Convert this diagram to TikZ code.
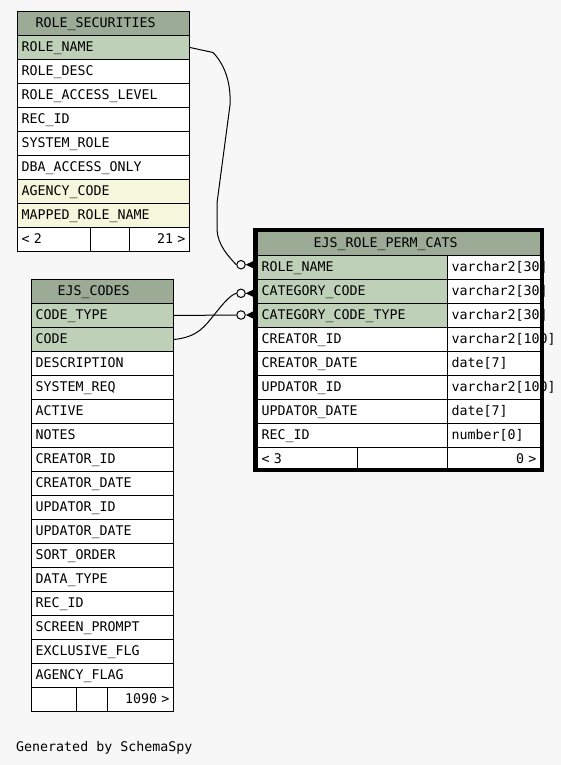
\documentclass[tikz,border=0pt]{standalone}
\usepackage{fontspec}
\setmonofont{DejaVu Sans Mono}
\usepackage{tikz}
\usetikzlibrary{positioning}

\definecolor{sfondo}{HTML}{F7F7F7}
\definecolor{verdetesta}{HTML}{9BAB96}
\definecolor{verdechiave}{HTML}{BED1B8}
\definecolor{gialloindice}{HTML}{F5F7DC}

\tikzset{
	cella/.style={draw, line width=1pt, fill=white, anchor=north west,
		inner xsep=4pt, inner ysep=0pt, minimum height=24pt,
		text height=11pt, text depth=3pt, text width=#1, align=left},
	cellad/.style={cella=#1, align=right},
	zampa/.style={circle, draw, line width=1pt, minimum size=8.5pt, inner sep=0pt},
	legame/.style={line width=1pt}
}

\begin{document}
\begin{tikzpicture}[x=1pt,y=-1pt,font=\fontsize{13.3}{15}\selectfont\ttfamily]
		\fill [sfondo] (0,0) rectangle (561,765);
		\useasboundingbox (0,0) rectangle (561,765);
		
		% ROLE_SECURITIES
		\node [cella=164pt, fill=verdetesta] (rs) at (17,11) {\hspace*{14pt}ROLE\_SECURITIES};
		\foreach \nome/\colore [count=\i] in {ROLE\_NAME/verdechiave, ROLE\_DESC/white,
			ROLE\_ACCESS\_LEVEL/white, REC\_ID/white, SYSTEM\_ROLE/white,
			DBA\_ACCESS\_ONLY/white, AGENCY\_CODE/gialloindice, MAPPED\_ROLE\_NAME/gialloindice}
			\node [cella=164pt, fill=\colore] (rs-\i) at (17,11+24*\i) {\nome};
		\node [cella=65pt] (rs-p1) at (17,227) {<\ 2};
		\node [cella=31pt] (rs-p2) at (90,227) {};
		\node [cellad=52pt] (rs-p3) at (129,227) {21\ >};
		
		% EJS_CODES
		\node [cella=134pt, fill=verdetesta] (ec) at (31,279) {\hspace*{22pt}EJS\_CODES};
		\foreach \nome/\colore [count=\i] in {CODE\_TYPE/verdechiave, CODE/verdechiave,
			DESCRIPTION/white, SYSTEM\_REQ/white, ACTIVE/white, NOTES/white,
			CREATOR\_ID/white, CREATOR\_DATE/white, UPDATOR\_ID/white, UPDATOR\_DATE/white,
			SORT\_ORDER/white, DATA\_TYPE/white, REC\_ID/white, SCREEN\_PROMPT/white,
			EXCLUSIVE\_FLG/white, AGENCY\_FLAG/white}
			\node [cella=134pt, fill=\colore] (ec-\i) at (31,279+24*\i) {\nome};
		\node [cella=37pt] (ec-p1) at (31,687) {};
		\node [cella=23pt] (ec-p2) at (76,687) {};
		\node [cellad=58pt] (ec-p3) at (107,687) {1090\ >};
		
		% EJS_ROLE_PERM_CATS
		\node [cella=275pt, fill=verdetesta] (erpc) at (257,231) {\hspace*{52pt}EJS\_ROLE\_PERM\_CATS};
		\foreach \nome/\tipo/\colore [count=\i] in {ROLE\_NAME/varchar2[30]/verdechiave,
			CATEGORY\_CODE/varchar2[30]/verdechiave, CATEGORY\_CODE\_TYPE/varchar2[30]/verdechiave,
			CREATOR\_ID/varchar2[100]/white, CREATOR\_DATE/date[7]/white,
			UPDATOR\_ID/varchar2[100]/white, UPDATOR\_DATE/date[7]/white, REC\_ID/number[0]/white} {
			\node [cella=182pt, fill=\colore] (erpc-\i) at (257,231+24*\i) {\nome};
			\node [cella=85pt] (erpc-t\i) at (447,231+24*\i) {\mbox{\tipo}};
		}
		\node [cella=92pt] (erpc-p1) at (257,447) {<\ 3};
		\node [cella=82pt] (erpc-p2) at (357,447) {};
		\node [cellad=85pt] (erpc-p3) at (447,447) {0\ >};
		% Bordo
		\draw [line width=4pt] (255,229.5) rectangle (542,470);
		
		% Legami
		\node [zampa] (z1) at (241,264.7) {};
		\node [zampa] (z2) at (241,293.3) {};
		\node [zampa] (z3) at (241,315) {};
		\foreach \i in {1,2,3}
			\fill (z\i.east) -- ([xshift=-3pt,yshift=-4pt]z\i.east -| erpc.west)
				-- ([xshift=-3pt,yshift=4pt]z\i.east -| erpc.west) -- cycle;
		\draw [legame] (rs-1.east) -- (213,52.5) .. controls (226,66) and (231,85) .. (230,105)
			-- (217,203) -- (217,230) .. controls (218,245) and (228,256) .. (z1.west);
		\draw [legame] (ec-1.east) -- (z3.west);
		\draw [legame] (ec-2.east) .. controls (198,337) and (205,326) .. (214,315)
			.. controls (222,305) and (230,295) .. (z2.west);
		
		% Firma
		\node [anchor=base west, inner sep=0pt] (firma) at (16,751) {Generated by SchemaSpy};
	\end{tikzpicture}
\end{document}
